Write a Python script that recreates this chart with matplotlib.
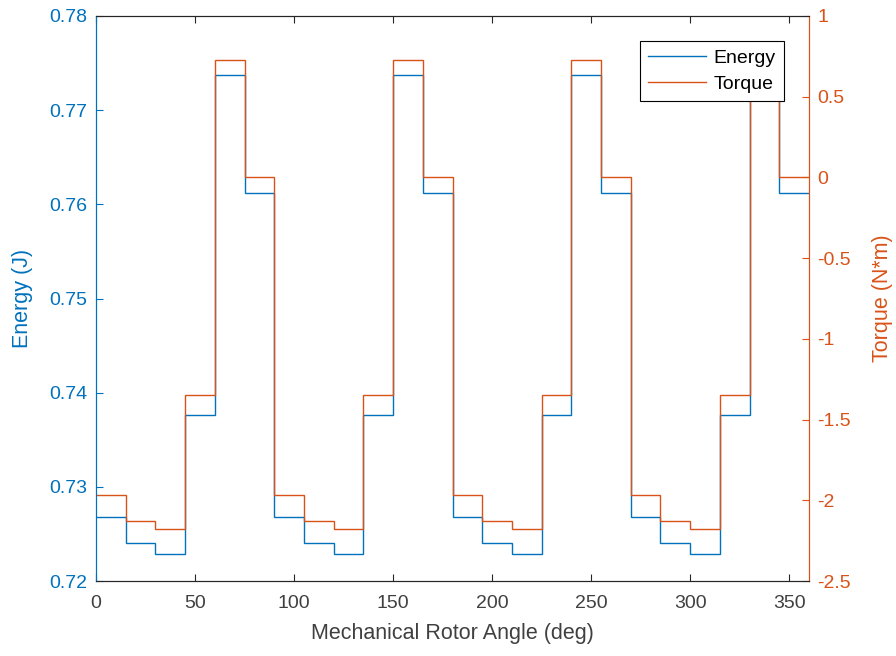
import numpy as np
import matplotlib.pyplot as plt

plt.rcParams['font.family'] = ['Liberation Sans', 'DejaVu Sans']

# step edges (deg) and per-step values, one cycle of 90 deg repeated four times
angle_edges = list(range(0, 361, 15))
energy = [0.7268, 0.7240, 0.7229, 0.7376, 0.7737, 0.7612,
          0.7268, 0.7240, 0.7229, 0.7376, 0.7737, 0.7612,
          0.7268, 0.7240, 0.7229, 0.7376, 0.7737, 0.7612,
          0.7268, 0.7240, 0.7229, 0.7376, 0.7737, 0.7612]
torque = [-1.97, -2.13, -2.18, -1.35, 0.725, 0.0,
          -1.97, -2.13, -2.18, -1.35, 0.725, 0.0,
          -1.97, -2.13, -2.18, -1.35, 0.725, 0.0,
          -1.97, -2.13, -2.18, -1.35, 0.725, 0.0]

blue = '#0072BD'
orange = '#D95319'
dark = '#262626'
text_gray = '#404040'

fig = plt.figure(figsize=(8.96, 6.56), dpi=100)
ax = fig.add_axes([96 / 896, 1 - 581 / 656, 713 / 896, 565 / 656])
ax2 = ax.twinx()

l1 = ax.stairs(energy, angle_edges, baseline=None, color=blue, linewidth=1.0, label='Energy')
l2 = ax2.stairs(torque, angle_edges, baseline=None, color=orange, linewidth=1.0, label='Torque')

ax.set_xlim(0, 360)
ax.set_ylim(0.72, 0.78)
ax2.set_ylim(-2.5, 1)
ax.set_xticks(np.arange(0, 351, 50))
ax.set_yticks(np.arange(0.72, 0.7801, 0.01))
ax.set_yticklabels([f'{v:.2f}' for v in np.arange(0.72, 0.7801, 0.01)])
ax2.set_yticks(np.arange(-2.5, 1.01, 0.5))
ax2.set_yticklabels(['-2.5', '-2', '-1.5', '-1', '-0.5', '0', '0.5', '1'])

ax.tick_params(axis='x', direction='in', top=True, colors=dark, labelcolor=text_gray,
               labelsize=14, length=5, pad=10)
ax.tick_params(axis='y', direction='in', colors=blue, labelsize=14, length=5, pad=6)
ax2.tick_params(axis='y', direction='in', colors=orange, labelsize=14, length=5, pad=6)

for a in (ax, ax2):
    a.spines['top'].set_color(dark)
    a.spines['bottom'].set_color(dark)
    a.spines['left'].set_color(blue)
    a.spines['right'].set_color(orange)

ax.set_xlabel('Mechanical Rotor Angle (deg)', fontsize=15.5, color=text_gray, labelpad=8)
ax.set_ylabel('Energy (J)', fontsize=15.5, color=blue, labelpad=12)
ax2.set_ylabel('Torque (N*m)', fontsize=15.5, color=orange, labelpad=15)

leg = ax2.legend([l1, l2], ['Energy', 'Torque'], loc='upper right', fontsize=14,
                 frameon=True, fancybox=False, edgecolor='black', framealpha=1,
                 borderaxespad=1.3, handlelength=3.0, handletextpad=0.4,
                 borderpad=0.4, labelspacing=0.45)
leg.get_frame().set_linewidth(0.8)

fig.savefig('out.png', dpi=100)
